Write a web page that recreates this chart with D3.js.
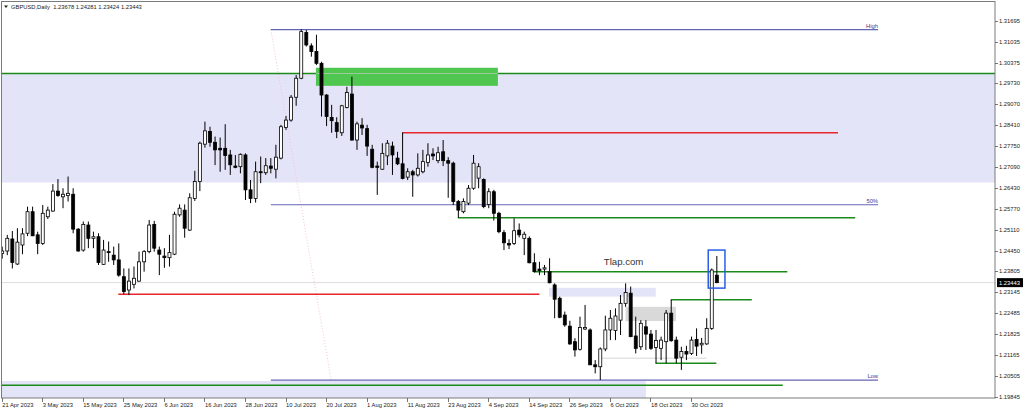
<!DOCTYPE html>
<html>
<head>
<meta charset="utf-8">
<script src="https://cdn.jsdelivr.net/npm/d3@7"></script>
<style>
  body { margin: 0; background: #fff; }
  svg { display: block; }
  text { font-family: "Liberation Sans", Arial, sans-serif; }
</style>
</head>
<body>
<svg width="1024" height="412"></svg>
<script>
/* global d3 */

// daily GBPUSD bars, 21 Apr 2023 .. 6 Nov 2023 (index = trading day)
const opens = [
  1.2436, 1.2444, 1.2482, 1.2403, 1.2463, 1.2500, 1.2568, 1.2495, 1.2468, 1.2552,
  1.2570, 1.2633, 1.2615, 1.2619, 1.2623, 1.2513, 1.2447, 1.2526, 1.2484, 1.2489,
  1.2402, 1.2442, 1.2431, 1.2416, 1.2363, 1.2321, 1.2339, 1.2349, 1.2410, 1.2442,
  1.2528, 1.2447, 1.2428, 1.2423, 1.2434, 1.2558, 1.2573, 1.2510, 1.2610, 1.2663,
  1.2781, 1.2821, 1.2787, 1.2768, 1.2768, 1.2747, 1.2712, 1.2710, 1.2747, 1.2637,
  1.2610, 1.2694, 1.2691, 1.2712, 1.2702, 1.2737, 1.2834, 1.2857, 1.2929, 1.2989,
  1.3133, 1.3091, 1.3073, 1.3036, 1.2936, 1.2865, 1.2849, 1.2817, 1.2897, 1.2939,
  1.2794, 1.2841, 1.2830, 1.2765, 1.2712, 1.2702, 1.2744, 1.2775, 1.2737, 1.2719,
  1.2677, 1.2694, 1.2684, 1.2694, 1.2723, 1.2750, 1.2729, 1.2757, 1.2729, 1.2721,
  1.2600, 1.2568, 1.2595, 1.2642, 1.2674, 1.2670, 1.2591, 1.2631, 1.2563, 1.2502,
  1.2468, 1.2468, 1.2510, 1.2484, 1.2484, 1.2407, 1.2387, 1.2387, 1.2379, 1.2337,
  1.2295, 1.2242, 1.2207, 1.2158, 1.2134, 1.2198, 1.2195, 1.2085, 1.2079, 1.2135,
  1.2195, 1.2193, 1.2226, 1.2279, 1.2311, 1.2176, 1.2142, 1.2205, 1.2182, 1.2140,
  1.2137, 1.2158, 1.2248, 1.2163, 1.2109, 1.2127, 1.2121, 1.2165, 1.2148, 1.2151,
  1.2200, 1.23678
];
const highs = [
  1.2458, 1.2495, 1.2507, 1.2516, 1.2516, 1.2584, 1.2584, 1.2505, 1.2589, 1.2584,
  1.2655, 1.2671, 1.2642, 1.2679, 1.2642, 1.2516, 1.2537, 1.2537, 1.2505, 1.2500,
  1.2479, 1.2474, 1.2458, 1.2468, 1.2389, 1.2389, 1.2395, 1.2442, 1.2447, 1.2542,
  1.2539, 1.2458, 1.2453, 1.2495, 1.2568, 1.2591, 1.2591, 1.2626, 1.2697, 1.2789,
  1.2852, 1.2836, 1.2805, 1.2802, 1.2844, 1.2763, 1.2747, 1.2752, 1.2752, 1.2668,
  1.2726, 1.2742, 1.2737, 1.2737, 1.2779, 1.2842, 1.2870, 1.2936, 1.2999, 1.3144,
  1.3141, 1.3099, 1.3126, 1.3041, 1.2939, 1.2905, 1.2866, 1.2905, 1.2962, 1.2994,
  1.2852, 1.2863, 1.2842, 1.2779, 1.2726, 1.2784, 1.2794, 1.2789, 1.2757, 1.2818,
  1.2705, 1.2700, 1.2752, 1.2763, 1.2784, 1.2768, 1.2773, 1.2794, 1.2740, 1.2726,
  1.2605, 1.2610, 1.2652, 1.2747, 1.2721, 1.2673, 1.2642, 1.2637, 1.2568, 1.2510,
  1.2481, 1.2547, 1.2531, 1.2505, 1.2490, 1.2437, 1.2410, 1.2400, 1.2421, 1.2342,
  1.2300, 1.2253, 1.2224, 1.2169, 1.2237, 1.2274, 1.2200, 1.2100, 1.2140, 1.2240,
  1.2258, 1.2263, 1.2305, 1.2342, 1.2332, 1.2237, 1.2226, 1.2226, 1.2195, 1.2195,
  1.2174, 1.2258, 1.2290, 1.2174, 1.2142, 1.2145, 1.2174, 1.2200, 1.2170, 1.2232,
  1.2389, 1.24281
];
const lows = [
  1.2420, 1.2431, 1.2389, 1.2400, 1.2434, 1.2491, 1.2491, 1.2434, 1.2463, 1.2545,
  1.2568, 1.2615, 1.2579, 1.2600, 1.2500, 1.2442, 1.2442, 1.2453, 1.2453, 1.2400,
  1.2400, 1.2410, 1.2400, 1.2363, 1.2308, 1.2305, 1.2326, 1.2347, 1.2379, 1.2437,
  1.2442, 1.2368, 1.2391, 1.2395, 1.2431, 1.2552, 1.2486, 1.2507, 1.2602, 1.2633,
  1.2770, 1.2773, 1.2715, 1.2694, 1.2700, 1.2684, 1.2705, 1.2689, 1.2605, 1.2595,
  1.2597, 1.2658, 1.2684, 1.2689, 1.2673, 1.2733, 1.2826, 1.2852, 1.2902, 1.2986,
  1.3089, 1.3057, 1.3031, 1.2868, 1.2838, 1.2817, 1.2800, 1.2807, 1.2894, 1.2792,
  1.2763, 1.2810, 1.2744, 1.2705, 1.2621, 1.2700, 1.2715, 1.2684, 1.2715, 1.2670,
  1.2668, 1.2615, 1.2679, 1.2689, 1.2710, 1.2731, 1.2721, 1.2712, 1.2612, 1.2589,
  1.2549, 1.2563, 1.2589, 1.2637, 1.2642, 1.2579, 1.2579, 1.2540, 1.2500, 1.2447,
  1.2450, 1.2463, 1.2487, 1.2431, 1.2405, 1.2376, 1.2368, 1.2368, 1.2342, 1.2232,
  1.2232, 1.2205, 1.2148, 1.2111, 1.2130, 1.2195, 1.2085, 1.2058, 1.2037, 1.2128,
  1.2163, 1.2163, 1.2179, 1.2268, 1.2172, 1.2121, 1.2132, 1.2132, 1.2132, 1.2090,
  1.2100, 1.2090, 1.2158, 1.2090, 1.2069, 1.2100, 1.2116, 1.2113, 1.2120, 1.2148,
  1.2195, 1.23424
];
const closes = [
  1.2444, 1.2484, 1.2408, 1.2472, 1.2498, 1.2568, 1.2492, 1.2468, 1.2563, 1.2573,
  1.2633, 1.2619, 1.2623, 1.2626, 1.2513, 1.2444, 1.2528, 1.2484, 1.2489, 1.2408,
  1.2447, 1.2439, 1.2416, 1.2368, 1.2316, 1.2349, 1.2358, 1.2410, 1.2442, 1.2526,
  1.2453, 1.2434, 1.2423, 1.2439, 1.2560, 1.2579, 1.2516, 1.2612, 1.2663, 1.2784,
  1.2823, 1.2787, 1.2763, 1.2763, 1.2745, 1.2716, 1.2708, 1.2749, 1.2637, 1.2610,
  1.2694, 1.2691, 1.2713, 1.2705, 1.2740, 1.2836, 1.2857, 1.2929, 1.2989, 1.3136,
  1.3094, 1.3073, 1.3036, 1.2936, 1.2868, 1.2855, 1.2821, 1.2902, 1.2944, 1.2794,
  1.2845, 1.2832, 1.2775, 1.2708, 1.2708, 1.2752, 1.2784, 1.2747, 1.2719, 1.2673,
  1.2694, 1.2684, 1.2705, 1.2726, 1.2747, 1.2744, 1.2754, 1.2729, 1.2721, 1.2600,
  1.2573, 1.2600, 1.2642, 1.2721, 1.2710, 1.2584, 1.2631, 1.2563, 1.2505, 1.2470,
  1.2463, 1.2508, 1.2495, 1.2497, 1.2407, 1.2379, 1.2382, 1.2391, 1.2344, 1.2292,
  1.2235, 1.2211, 1.2151, 1.2132, 1.2203, 1.2203, 1.2085, 1.2079, 1.2135, 1.2195,
  1.2232, 1.2239, 1.2279, 1.2313, 1.2174, 1.2137, 1.2216, 1.2182, 1.2137, 1.2162,
  1.2163, 1.2248, 1.2161, 1.2106, 1.2127, 1.2119, 1.2163, 1.2144, 1.2153, 1.2200,
  1.2384, 1.23443
];

// one date label every 8 bars
const dateLabels = [
  "21 Apr 2023", "3 May 2023", "15 May 2023", "25 May 2023", "6 Jun 2023",
  "16 Jun 2023", "28 Jun 2023", "10 Jul 2023", "20 Jul 2023", "1 Aug 2023",
  "11 Aug 2023", "23 Aug 2023", "4 Sep 2023", "14 Sep 2023", "26 Sep 2023",
  "6 Oct 2023", "18 Oct 2023", "30 Oct 2023"
];
const priceTicks = [
  1.31695, 1.31035, 1.30375, 1.29730, 1.29070, 1.28410, 1.27750, 1.27090, 1.26430,
  1.25770, 1.25110, 1.24450, 1.23805, 1.23145, 1.22485, 1.21825, 1.21165, 1.20505, 1.19845
];
const lastPrice = 1.23443;
const titleText = "GBPUSD,Daily  1.23678 1.24281 1.23424 1.23443";

// drawn objects: [fromBar, toBar, price] / [fromBar, toBar, priceTop, priceBottom]
const greenLevels = [
  [-1, 197, 1.3004], [90, 168.4, 1.2549], [105, 155, 1.2379],
  [132, 148, 1.2290], [129, 141, 1.2090], [-1, 154.1, 1.2021]
];
const redLevels = [[79.05, 165, 1.2817], [23, 106.1, 1.2308]];
const fibLevels = [["High", 1.3142], ["50%", 1.2590], ["Low", 1.2037]];
const fibSpan = [53.1, 172.9];
const fibDiagonal = [[53.1, 1.3142], [65, 1.2037]];
const lavenderZones = [[-1, 197, 1.3004, 1.2660], [-1, 127.1, 1.2034, 1.19], [108, 129.05, 1.2328, 1.2300]];
const greyZones = [[123.1, 133.05, 1.2268, 1.2223]];
const greenZones = [[62, 97.9, 1.3022, 1.2965]];
const greyLevels = [[118.05, 139.1, 1.2106]];
const markBox = [139.4, 142.7, 1.2447, 1.2327];
const watermark = ["Tlap.com", 118.8, 1.2400];

const svg = d3.select("svg");
const frame = { left: 2, top: 2, right: 995, bottom: 398 };

const x = d3.scaleLinear().domain([0, 136]).range([1.7, 691]);
const y = d3.scaleLinear().domain([1.19845, 1.31695]).range([396.7, 21]);

svg.append("defs").append("clipPath").attr("id", "plot")
  .append("rect")
  .attr("x", frame.left).attr("y", frame.top)
  .attr("width", frame.right - frame.left).attr("height", frame.bottom - frame.top);

const plot = svg.append("g").attr("clip-path", "url(#plot)");

const drawZones = (zones, fill) => {
  plot.selectAll(null).data(zones).enter().append("rect")
    .attr("x", (d) => x(d[0]))
    .attr("width", (d) => x(d[1]) - x(d[0]))
    .attr("y", (d) => y(d[2]))
    .attr("height", (d) => y(d[3]) - y(d[2]))
    .attr("fill", fill);
};

const drawLevels = (levels, stroke, width) => {
  plot.selectAll(null).data(levels).enter().append("line")
    .attr("x1", (d) => x(d[0])).attr("x2", (d) => x(d[1]))
    .attr("y1", (d) => y(d[2])).attr("y2", (d) => y(d[2]))
    .attr("stroke", stroke).attr("stroke-width", width);
};

drawZones(lavenderZones, "#e4e4f8");
drawZones(greyZones, "#d9d9d9");

// current price line
plot.append("line")
  .attr("x1", frame.left).attr("x2", frame.right)
  .attr("y1", y(lastPrice)).attr("y2", y(lastPrice))
  .attr("stroke", "#dcdcdc").attr("stroke-width", 1);

drawLevels(greyLevels, "#d6d6d6", 1);

// fibo diagonal
plot.append("line")
  .attr("x1", x(fibDiagonal[0][0])).attr("y1", y(fibDiagonal[0][1]))
  .attr("x2", x(fibDiagonal[1][0])).attr("y2", y(fibDiagonal[1][1]))
  .attr("stroke", "#f2c4cc").attr("stroke-width", 1).attr("stroke-dasharray", "1,2");

drawLevels(greenLevels, "#1b8a1b", 1.5);
drawLevels(redLevels, "#e8262b", 1.5);

drawZones(greenZones, "#4fc64f");
plot.selectAll(null).data(greenZones).enter().append("line")
  .attr("x1", (d) => x(d[0])).attr("x2", (d) => x(d[1]))
  .attr("y1", y(greenLevels[0][2])).attr("y2", y(greenLevels[0][2]))
  .attr("stroke", "#9fca9f").attr("stroke-width", 1);

// fibo levels
const fib = plot.selectAll(null).data(fibLevels).enter().append("g");
fib.append("line")
  .attr("x1", x(fibSpan[0])).attr("x2", x(fibSpan[1]))
  .attr("y1", (d) => y(d[1])).attr("y2", (d) => y(d[1]))
  .attr("stroke", "#6464b4").attr("stroke-width", 1.2);
fib.append("text")
  .attr("x", x(fibSpan[1])).attr("y", (d) => y(d[1]) - 1.8)
  .attr("text-anchor", "end")
  .attr("font-size", 5.8)
  .attr("fill", "#3c3c96")
  .text((d) => d[0]);

// candles
const bars = d3.range(opens.length).map((i) => ({
  i, o: opens[i], h: highs[i], l: lows[i], c: closes[i]
}));
const candle = plot.selectAll(".candle").data(bars).enter().append("g").attr("class", "candle");
candle.append("line")
  .attr("x1", (d) => x(d.i) + 0.5).attr("x2", (d) => x(d.i) + 0.5)
  .attr("y1", (d) => y(d.h)).attr("y2", (d) => y(d.l))
  .attr("stroke", "#000").attr("stroke-width", 1);
candle.append("rect")
  .attr("x", (d) => x(d.i) - 1)
  .attr("width", 3)
  .attr("y", (d) => y(Math.max(d.o, d.c)))
  .attr("height", (d) => Math.max(0.8, Math.abs(y(d.o) - y(d.c))))
  .attr("fill", (d) => d.c >= d.o ? "#fff" : "#000")
  .attr("stroke", "#000").attr("stroke-width", 0.8);

// marker box around last bar
plot.append("rect")
  .attr("x", x(markBox[0])).attr("width", x(markBox[1]) - x(markBox[0]))
  .attr("y", y(markBox[2])).attr("height", y(markBox[3]) - y(markBox[2]))
  .attr("fill", "none").attr("stroke", "#2a5ee6").attr("stroke-width", 1.5);

plot.append("text")
  .attr("x", x(watermark[1])).attr("y", y(watermark[2]))
  .attr("font-size", 9.6).attr("fill", "#333")
  .text(watermark[0]);

// frame
svg.append("rect")
  .attr("x", frame.left - 0.5).attr("y", frame.top - 0.5)
  .attr("width", frame.right - frame.left + 0.5).attr("height", frame.bottom - frame.top + 0.5)
  .attr("fill", "none").attr("stroke", "#7a7a7a").attr("stroke-width", 1);

// price axis
const priceAxis = svg.append("g");
priceAxis.selectAll(null).data(priceTicks).enter().append("line")
  .attr("x1", frame.right).attr("x2", frame.right + 3)
  .attr("y1", (d) => Math.round(y(d)) + 0.5).attr("y2", (d) => Math.round(y(d)) + 0.5)
  .attr("stroke", "#555").attr("stroke-width", 0.8);
priceAxis.selectAll(null).data(priceTicks).enter().append("text")
  .attr("x", frame.right + 4).attr("y", (d) => y(d) + 2)
  .attr("font-size", 5.8).attr("fill", "#222")
  .text((d) => d.toFixed(5));

priceAxis.append("rect")
  .attr("x", frame.right + 2).attr("y", y(lastPrice) - 4.5)
  .attr("width", 26).attr("height", 9)
  .attr("fill", "#000");
priceAxis.append("text")
  .attr("x", frame.right + 4).attr("y", y(lastPrice) + 2)
  .attr("font-size", 5.8).attr("fill", "#fff")
  .text(lastPrice.toFixed(5));

// time axis
const timeAxis = svg.append("g");
const dateTicks = dateLabels.map((label, k) => ({ label, i: k * 8 }));
timeAxis.selectAll(null).data(dateTicks).enter().append("line")
  .attr("x1", (d) => Math.round(x(d.i)) + 0.5).attr("x2", (d) => Math.round(x(d.i)) + 0.5)
  .attr("y1", frame.bottom).attr("y2", frame.bottom + 4)
  .attr("stroke", "#555").attr("stroke-width", 0.8);
timeAxis.selectAll(null).data(dateTicks).enter().append("text")
  .attr("x", (d) => x(d.i) + 0.5).attr("y", frame.bottom + 8.8)
  .attr("font-size", 5.8).attr("fill", "#222")
  .text((d) => d.label);

// title
svg.append("path")
  .attr("d", "M4,5.5 L8,5.5 L6,8 Z")
  .attr("fill", "#222");
svg.append("text")
  .attr("x", 11).attr("y", 8.5)
  .attr("font-size", 5.8).attr("fill", "#222")
  .attr("xml:space", "preserve")
  .style("white-space", "pre")
  .text(titleText);
</script>
</body>
</html>
